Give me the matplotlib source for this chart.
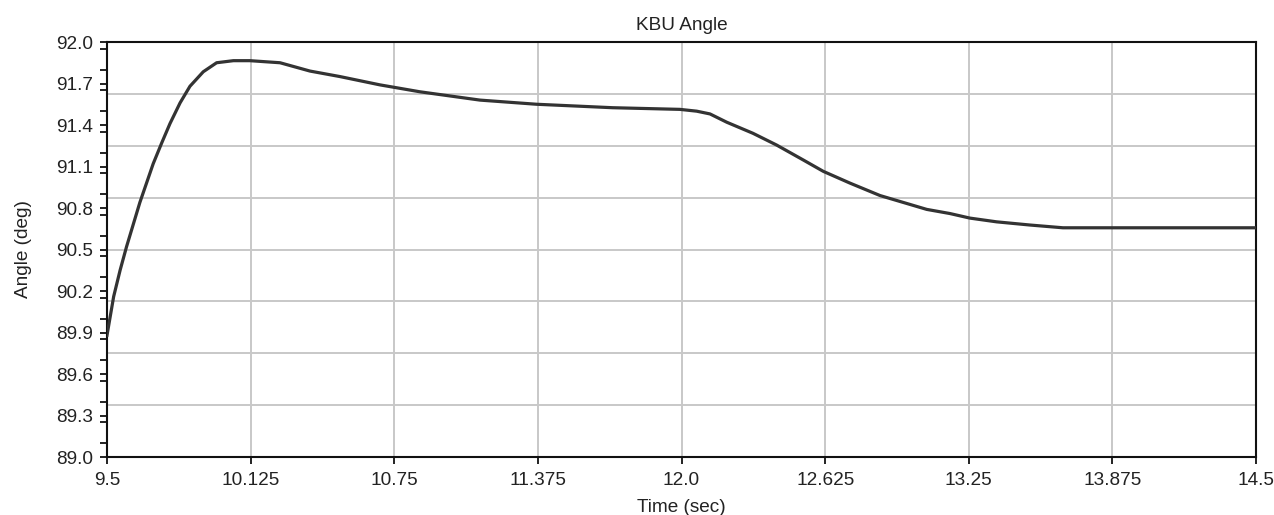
import matplotlib
matplotlib.use("Agg")
import matplotlib.pyplot as plt
import numpy as np
from matplotlib.ticker import FixedLocator, MultipleLocator

time_s = [9.5, 9.529, 9.557, 9.585, 9.614, 9.643, 9.672, 9.701, 9.738, 9.774,
          9.818, 9.861, 9.919, 9.977, 10.05, 10.122, 10.253, 10.383, 10.514,
          10.688, 10.862, 11.123, 11.369, 11.70, 11.993, 12.066, 12.124, 12.197,
          12.311, 12.414, 12.53, 12.617, 12.733, 12.864, 13.067, 13.168, 13.255,
          13.371, 13.516, 13.66, 14.5]
angle_deg = [89.88, 90.16, 90.35, 90.52, 90.68, 90.84, 90.98, 91.12, 91.27, 91.41,
             91.56, 91.68, 91.785, 91.85, 91.865, 91.865, 91.85, 91.79, 91.75,
             91.69, 91.64, 91.58, 91.55, 91.525, 91.513, 91.50, 91.48, 91.42,
             91.34, 91.255, 91.147, 91.065, 90.98, 90.89, 90.79, 90.76, 90.727,
             90.70, 90.677, 90.657, 90.657]

x_ticks = [9.5, 10.125, 10.75, 11.375, 12.0, 12.625, 13.25, 13.875, 14.5]
x_labels = ["9.5", "10.125", "10.75", "11.375", "12.0", "12.625", "13.25", "13.875", "14.5"]
y_ticks = [89.0, 89.3, 89.6, 89.9, 90.2, 90.5, 90.8, 91.1, 91.4, 91.7, 92.0]
y_labels = ["89.0", "89.3", "89.6", "89.9", "90.2", "90.5", "90.8", "91.1", "91.4", "91.7", "92.0"]

plt.rcParams['font.family'] = ['Liberation Sans', 'DejaVu Sans']
txt = '#222222'
fs = 13.7

fig = plt.figure(figsize=(12.74, 5.15), dpi=100)
ax = fig.add_axes([107/1274, 58/515, (1256-107)/1274, (457-42)/515])

ax.set_xlim(9.5, 14.5)
ax.set_ylim(89.0, 92.0)

# horizontal grid lines (8 equal divisions, independent of y ticks)
for g in np.linspace(89.0, 92.0, 9)[1:-1]:
    ax.axhline(g, color='#c8c8c8', lw=1.4, zorder=0)
for g in x_ticks[1:-1]:
    ax.axvline(g, color='#c8c8c8', lw=1.4, zorder=0)

ax.plot(time_s, angle_deg, color='#333333', lw=2.3, zorder=3)

ax.xaxis.set_major_locator(FixedLocator(x_ticks))
ax.set_xticklabels(x_labels)
ax.yaxis.set_major_locator(FixedLocator(y_ticks))
ax.set_yticklabels(y_labels)
ax.yaxis.set_minor_locator(MultipleLocator(0.15))

ax.tick_params(axis='both', which='major', direction='out', length=5, width=1.3,
               color='#111111', labelsize=fs, labelcolor=txt)
ax.tick_params(axis='y', which='minor', direction='out', length=5, width=1.3, color='#111111')
ax.tick_params(axis='y', which='major', pad=5)
ax.tick_params(axis='x', which='major', pad=6)

for s in ax.spines.values():
    s.set_color('#111111')
    s.set_linewidth(1.5)

ax.set_title("KBU Angle", fontsize=fs, color=txt, pad=9)
ax.set_xlabel("Time (sec)", fontsize=fs, color=txt, labelpad=7)
ax.set_ylabel("Angle (deg)", fontsize=fs, color=txt, labelpad=17)

fig.savefig("out.png", dpi=100, facecolor='white')
